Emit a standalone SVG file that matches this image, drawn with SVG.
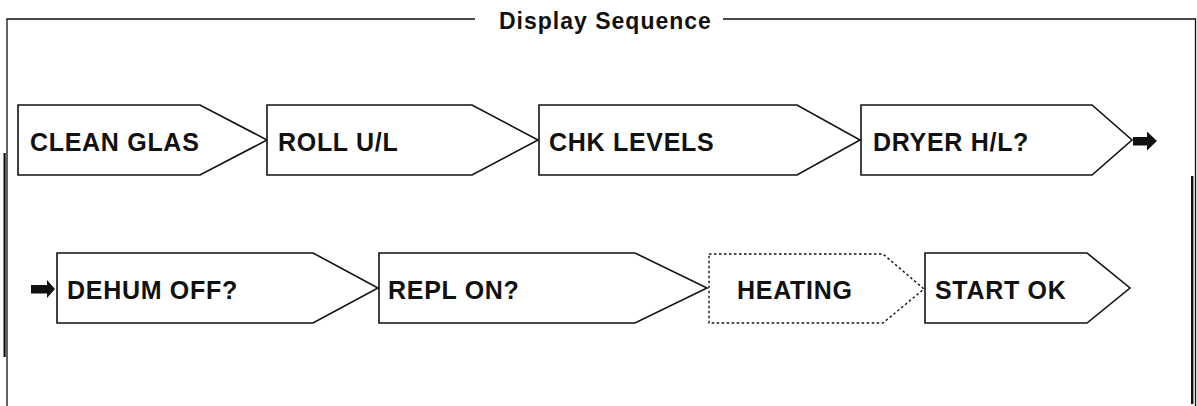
<svg xmlns="http://www.w3.org/2000/svg" width="1197" height="406" viewBox="0 0 1197 406">
<style>
.frame{fill:none;stroke:#111;stroke-width:1.3}
.bar{fill:#111}
.node{fill:#fff;stroke:#111;stroke-width:1.6;stroke-linejoin:miter}
.dotted{fill:#fff;stroke:#111;stroke-width:1.4;stroke-dasharray:2.5 2.5}
.lbl{font-family:"Liberation Sans",Arial,Helvetica,sans-serif;font-weight:bold;font-size:25px;letter-spacing:0.7px;fill:#111}
.title{font-family:"Liberation Sans",Arial,Helvetica,sans-serif;font-weight:bold;font-size:23px;letter-spacing:1px;fill:#111}
.arrow{fill:#111}
</style>
<rect width="1197" height="406" fill="#fff"/>
<g id="frame">
<path class="frame" d="M7,406 V19 H475 M723,19 H1195.5 V406"/>
<rect class="bar" x="3.5" y="153" width="2.2" height="204"/>
<rect class="bar" x="1191" y="176" width="2.4" height="228"/>
<text class="title" x="499" y="28.5">Display Sequence</text>
</g>
<g id="n1"><path class="node" d="M18,105 H200 L267,140 L200,175 H18 Z"/><text class="lbl" x="30" y="151">CLEAN GLAS</text></g>
<g id="n2"><path class="node" d="M267,105 H472 L538,140 L472,175 H267 Z"/><text class="lbl" x="278" y="151">ROLL U/L</text></g>
<g id="n3"><path class="node" d="M539,105 H797 L860,140 L797,175 H539 Z"/><text class="lbl" x="549" y="151">CHK LEVELS</text></g>
<g id="n4"><path class="node" d="M861,105 H1092 L1132,140 L1092,175 H861 Z"/><text class="lbl" x="873" y="151">DRYER H/L?</text></g>
<g id="n5"><path class="node" d="M57,253 H313 L378,288 L313,323 H57 Z"/><text class="lbl" x="67" y="298.5">DEHUM OFF?</text></g>
<g id="n6"><path class="node" d="M379,253 H635 L707,288 L635,323 H379 Z"/><text class="lbl" x="388" y="298.5">REPL ON?</text></g>
<g id="n7"><path class="dotted" d="M709,254 H883 L924,289 L883,323 H709 Z"/><text class="lbl" x="737" y="298.5">HEATING</text></g>
<g id="n8"><path class="node" d="M925,253 H1087 L1130,288 L1087,323 H925 Z"/><text class="lbl" x="935" y="298.5">START OK</text></g>
<g id="connectors">
<path class="arrow" d="M1133,137 H1147 V131.5 L1157,141 L1147,150.5 V145.5 H1133 Z"/>
<path class="arrow" d="M31,285 H47 V280 L55,289 L47,298 V293.5 H31 Z"/>
</g>
</svg>
